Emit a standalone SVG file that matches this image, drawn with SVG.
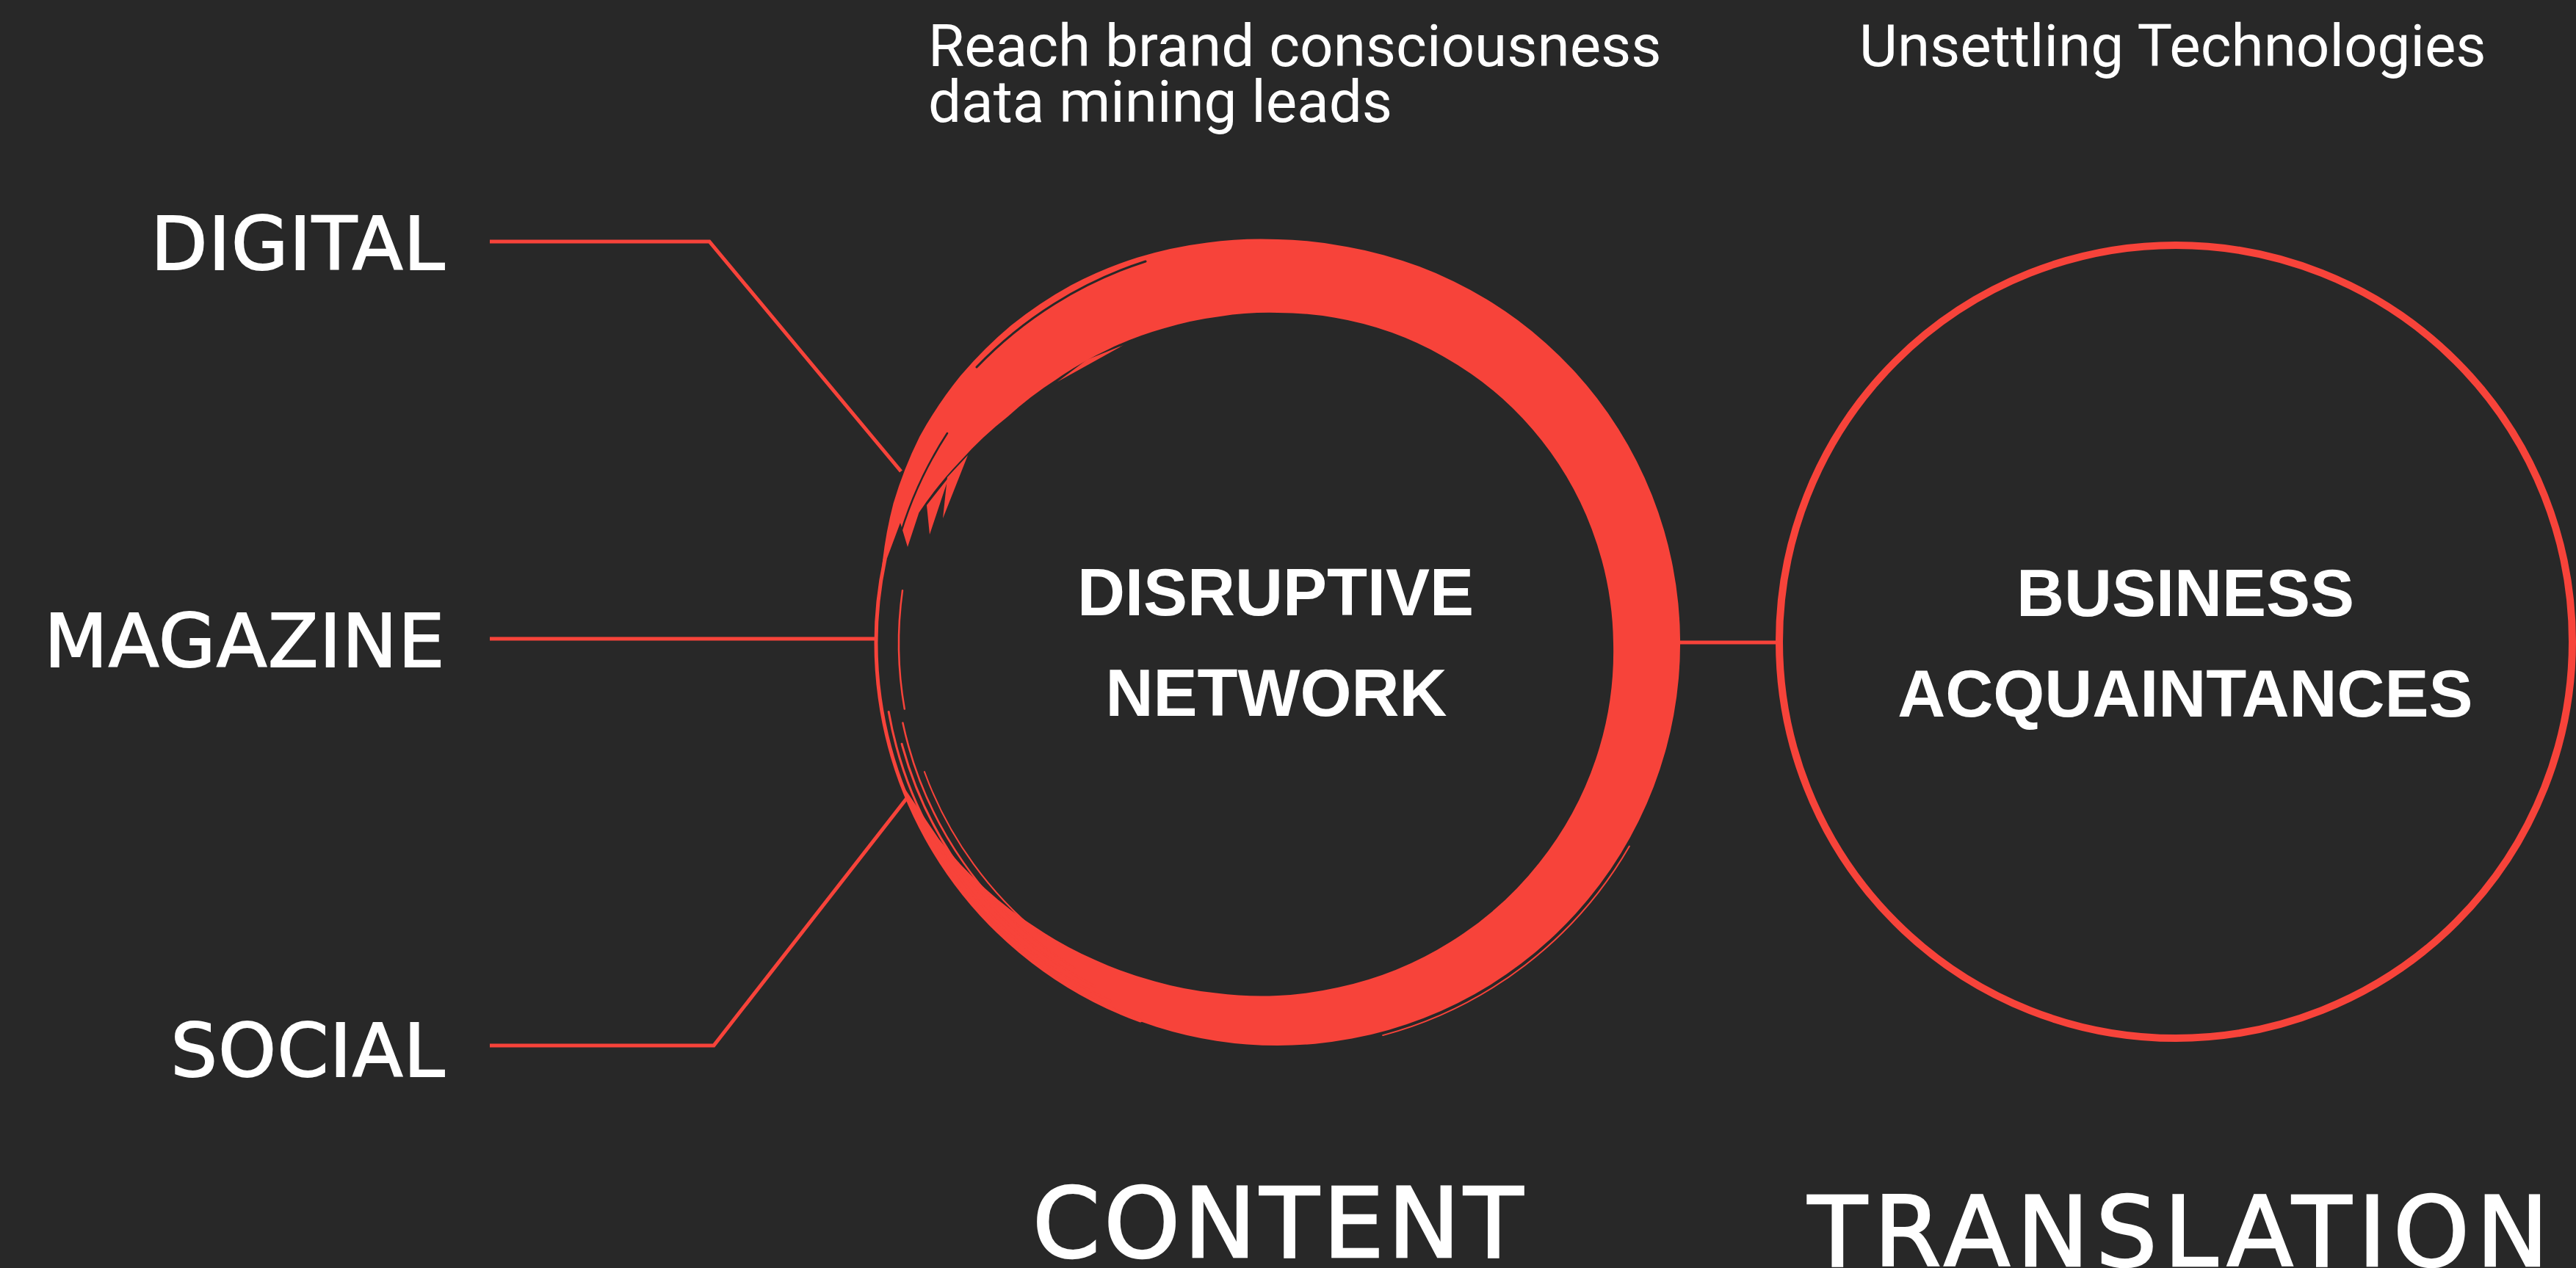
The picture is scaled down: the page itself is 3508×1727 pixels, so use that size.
<svg xmlns="http://www.w3.org/2000/svg" width="3508" height="1727" viewBox="0 0 3508 1727">
  <style>
    .bg { fill: #282828; }
    .conn { fill: none; stroke: #F7433A; stroke-width: 5; stroke-linejoin: miter; }
    .label { font-family: "DejaVu Sans", "Noto Sans", sans-serif; font-size: 100px; fill: #FFFFFF; stroke: #FFFFFF; stroke-width: 2; text-anchor: end; letter-spacing: 1.5px; }
    .title { font-family: "DejaVu Sans", "Noto Sans", sans-serif; font-size: 132px; fill: #FFFFFF; stroke: #FFFFFF; stroke-width: 2.5; }
    .node-text { font-family: "Liberation Sans", Arial, sans-serif; font-weight: bold; font-size: 90px; fill: #FFFFFF; text-anchor: middle; }
    .note { font-family: Roboto, "Liberation Sans", sans-serif; font-weight: 400; font-size: 80px; fill: #FFFFFF; }
    .brush { fill: #F7433A; }
    .strand { fill: none; stroke: #F7433A; stroke-linecap: round; }
    .streak { fill: none; stroke: #282828; stroke-linecap: round; }
    .ring { fill: none; stroke: #F7433A; stroke-width: 10; }
  </style>
  <rect class="bg" x="0" y="0" width="3508" height="1727"/>

  <g id="connectors">
    <polyline class="conn" points="667,329 966,329 1227,642"/>
    <polyline class="conn" points="667,870 1194,870"/>
    <polyline class="conn" points="667,1424 972,1424 1235,1087"/>
    <line class="conn" x1="2284" y1="875" x2="2426" y2="875"/>
  </g>

  <g id="node-digital">
    <text class="label" x="607" y="367">DIGITAL</text>
  </g>
  <g id="node-magazine">
    <text class="label" x="607" y="908">MAGAZINE</text>
  </g>
  <g id="node-social">
    <text class="label" x="607" y="1466">SOCIAL</text>
  </g>

  <g id="node-disruptive-network">
    <path class="brush" d="M 1200.3 780.9
      A 555 555 0 0 1 1216.6 685.5
      A 560 560 0 0 1 1252.4 594.5
      A 564 564 0 0 1 1307.2 512.8
      A 565 565 0 0 1 1376.8 443.2
      A 564 564 0 0 1 1458.5 388.4
      A 561 561 0 0 1 1548.8 350.7
      A 556 556 0 0 1 1643.8 330.4
      A 552 552 0 0 1 1740 326
      A 549 549 0 0 1 1835.1 336.3
      A 548 548 0 0 1 1740 1424
      A 548 548 0 0 1 1225.0 1063.4
      L 1278.4 1142.5
      A 527 527 0 0 0 1341.7 1210.3
      A 514 514 0 0 0 1413.5 1265.1
      A 503 503 0 0 0 1491 1307.3
      A 494 494 0 0 0 1572.4 1336.5
      A 487 487 0 0 0 1656.0 1352.6
      A 482 482 0 0 0 1740 1356
      A 478 478 0 0 0 1822.6 1344.8
      A 473 473 0 0 0 1975 1283.0
      A 467 467 0 0 0 2096.2 1174.9
      A 463 463 0 0 0 2173.2 1033.7
      A 459 459 0 0 0 2197 876
      A 456 456 0 0 0 2167.6 720.4
      A 454 454 0 0 0 2087.0 584.8
      A 452 452 0 0 0 1965.5 485.4
      A 450 450 0 0 0 1818.1 432.8
      A 450 450 0 0 0 1740 426
      A 451 451 0 0 0 1661.5 430.9
      A 454 454 0 0 0 1584.0 447.5
      A 459 459 0 0 0 1509 475.9
      A 465 465 0 0 0 1438.5 516.7
      A 474 474 0 0 0 1372.3 567.5
      A 489 489 0 0 0 1308.7 627
      A 509 509 0 0 0 1251.4 698.2
      L 1236 745 L 1226 712 Z"/>
    <path class="brush" d="M 1262 688 L 1292 650 L 1266 728 Z"/>
    <path class="brush" d="M 1290 650 L 1318 620 L 1284 706 Z"/>
    <path class="brush" d="M 1480 490 L 1530 470 L 1440 520 Z"/>
    <path class="streak" stroke-width="3" d="M 1330 500 A 553 553 0 0 1 1560 356"/>
    <path class="streak" stroke-width="2.5" d="M 1222 742 A 540 540 0 0 1 1290 590"/>
    <path class="strand" stroke-width="5" d="M 1552.9 1390.0 A 547 547 0 0 1 1205.0 762.3"/>
    <path class="strand" stroke-width="3" d="M 1512.6 1363.6 A 538 538 0 0 1 1210.2 969.4"/>
    <path class="strand" stroke-width="3" d="M 1491.2 1343.9 A 530 530 0 0 1 1228.1 1013.2"/>
    <path class="strand" stroke-width="2.5" d="M 1463.4 1318.7 A 522 522 0 0 1 1229.4 984.5"/>
    <path class="strand" stroke-width="2.5" d="M 1231.8 965.6 A 516 516 0 0 1 1229.0 804.2"/>
    <path class="strand" stroke-width="2" d="M 1424.8 1279.5 A 512 512 0 0 1 1258.9 1051.1"/>
    <path class="strand" stroke-width="2" d="M 2218.9 1152.5 A 553 553 0 0 1 1883.1 1410.1"/>
    <text class="node-text" x="1737" y="838">DISRUPTIVE</text>
    <text class="node-text" x="1738" y="975">NETWORK</text>
  </g>

  <g id="node-business-acquaintances">
    <circle class="ring" cx="2963" cy="874" r="540"/>
    <text class="node-text" x="2976" y="839">BUSINESS</text>
    <text class="node-text" x="2976" y="976">ACQUAINTANCES</text>
  </g>

  <g id="notes">
    <text class="note" x="1264" y="90">Reach brand consciousness</text>
    <text class="note" x="1264" y="166">data mining leads</text>
    <text class="note" x="2532" y="90">Unsettling Technologies</text>
  </g>

  <g id="titles">
    <text class="title" x="1406" y="1712" letter-spacing="5">CONTENT</text>
    <text class="title" x="2462" y="1724" letter-spacing="9">TRANSLATION</text>
  </g>
</svg>
